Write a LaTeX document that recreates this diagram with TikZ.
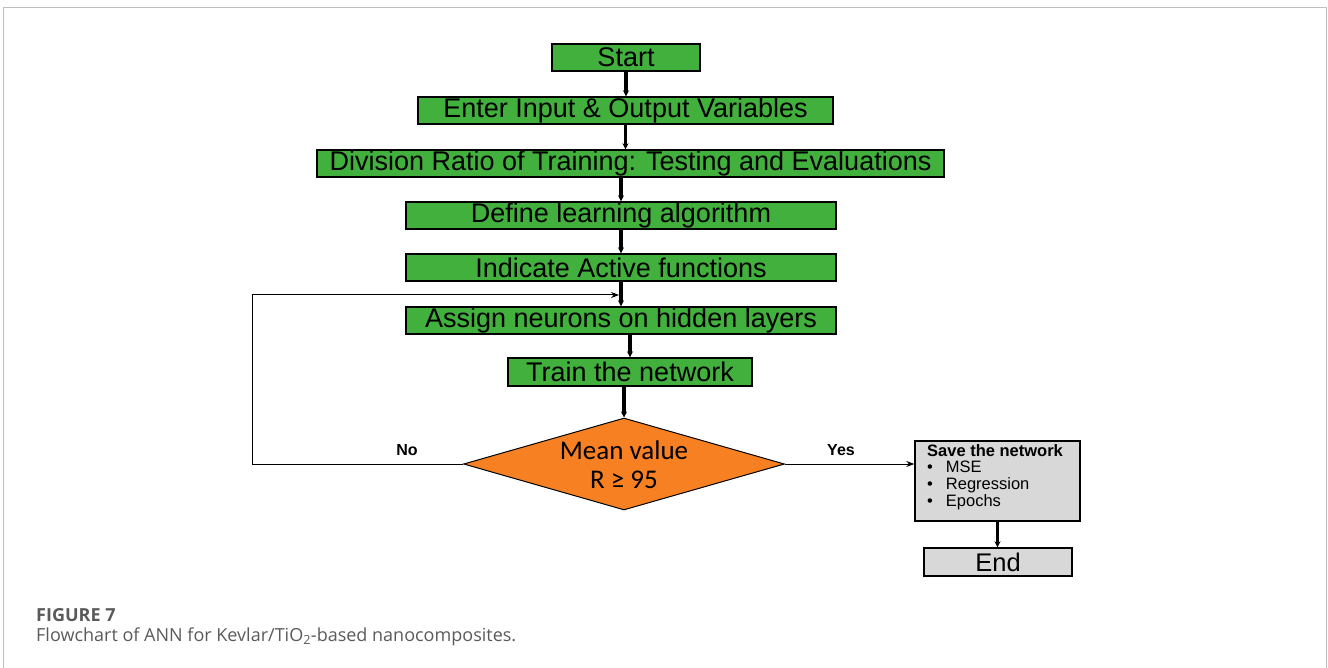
\documentclass[tikz,border=0pt]{standalone}
\usepackage{fontspec}
\setmainfont{Liberation Sans}
\newfontfamily\meanfont{Carlito}
\newfontfamily\capfont{Open Sans}
\usetikzlibrary{shapes.geometric,arrows.meta}
\definecolor{boxgreen}{RGB}{66,176,60}
\definecolor{deciorange}{RGB}{247,128,34}
\definecolor{savegray}{RGB}{216,216,216}
\definecolor{framegray}{RGB}{190,190,190}
\definecolor{captiongray}{RGB}{90,90,90}
\begin{document}
\begin{tikzpicture}[x=1pt, y=-1pt,
  stepbox/.style={draw, line width=1.4pt, fill=boxgreen, inner sep=0pt, minimum height=27pt,
    font=\fontsize{27}{30}\selectfont},
  graybox/.style={draw, line width=1.4pt, fill=savegray, inner sep=0pt},
  flow/.style={line width=3.4pt, -{Stealth[length=6pt, width=6pt]}},
  thinflow/.style={line width=1pt, -{Stealth[length=8pt, width=6pt]}},
  answer/.style={font=\bfseries\fontsize{16}{18}\selectfont}]

\useasboundingbox (0,0) rectangle (1328,668);

% The frame
\draw[framegray, line width=1pt] (3,668) -- (3,8) -- (1326,8) -- (1326,668);

% The steps
\node[stepbox, minimum width=148pt] (start) at (626,57.5) {Start};
\node[stepbox, minimum width=415pt] (enter) at (625.5,110.5) {Enter Input \& Output Variables};
\node[stepbox, minimum width=627pt] (ratio) at (630.5,163.5) {Division Ratio of Training: Testing and Evaluations};
\node[stepbox, minimum width=430pt] (define) at (621,215.5) {Define learning algorithm};
\node[stepbox, minimum width=430pt] (indicate) at (621,267.5) {Indicate Active functions};
\node[stepbox, minimum width=430pt] (assign) at (621,320.5) {Assign neurons on hidden layers};
\node[stepbox, minimum width=244pt, minimum height=28pt] (train) at (630,372) {Train the network};

% The decision
\node[diamond, draw, line width=1pt, fill=deciorange, inner sep=0pt, minimum width=321pt,
  minimum height=92pt] (decide) at (624,464) {};
\node[font=\meanfont\fontsize{27}{29}\selectfont, align=center] (decidetext) at (624,465)
  {Mean value\\R ≥ 95};

% The end
\node[graybox, minimum width=165pt, minimum height=80pt] (save) at (997.5,481) {};
\node[anchor=north west, inner sep=0pt, align=left, font=\fontsize{16.5}{16.8}\selectfont]
  (savetext) at (927,444)
  {\textbf{Save the network}\\
   \textbullet\hspace{13pt}MSE\\
   \textbullet\hspace{13pt}Regression\\
   \textbullet\hspace{13pt}Epochs};
\node[graybox, minimum width=148pt, minimum height=28pt, font=\fontsize{25.5}{28}\selectfont]
  (end) at (998,562) {End};

% Arrows
\draw[flow] (start.south) -- (start.south |- enter.north);
\draw[flow] (enter.south) -- (enter.south |- ratio.north);
\draw[flow] (ratio.south -| define) -- (define.north);
\draw[flow] (define.south) -- (indicate.north);
\draw[flow] (indicate.south) -- (assign.north);
\draw[flow] (assign.south -| train) -- (train.north);
\draw[flow] (train.south -| decide) -- (decide.north);
\draw[flow] (save.south) -- (save.south |- end.north);

% Loop back and yes
\coordinate (loopin) at (619,295);
\draw[thinflow] (decide.west) -- (252,464) |- (loopin);
\draw[thinflow] (decide.east) -- (decide.east -| save.west);
\node[answer] (no) at (407,450) {No};
\node[answer] (yes) at (841,450) {Yes};

% Caption
\node[anchor=west, inner sep=0pt, text=captiongray, font=\capfont\bfseries\fontsize{18}{20}\selectfont]
  (figno) at (36,615) {FIGURE 7};
\node[anchor=west, inner sep=0pt, text=captiongray, font=\capfont\fontsize{18}{20}\selectfont]
  (figcap) at (36,637) {Flowchart of ANN for Kevlar/TiO\textsubscript{2}-based nanocomposites.};

\end{tikzpicture}
\end{document}
